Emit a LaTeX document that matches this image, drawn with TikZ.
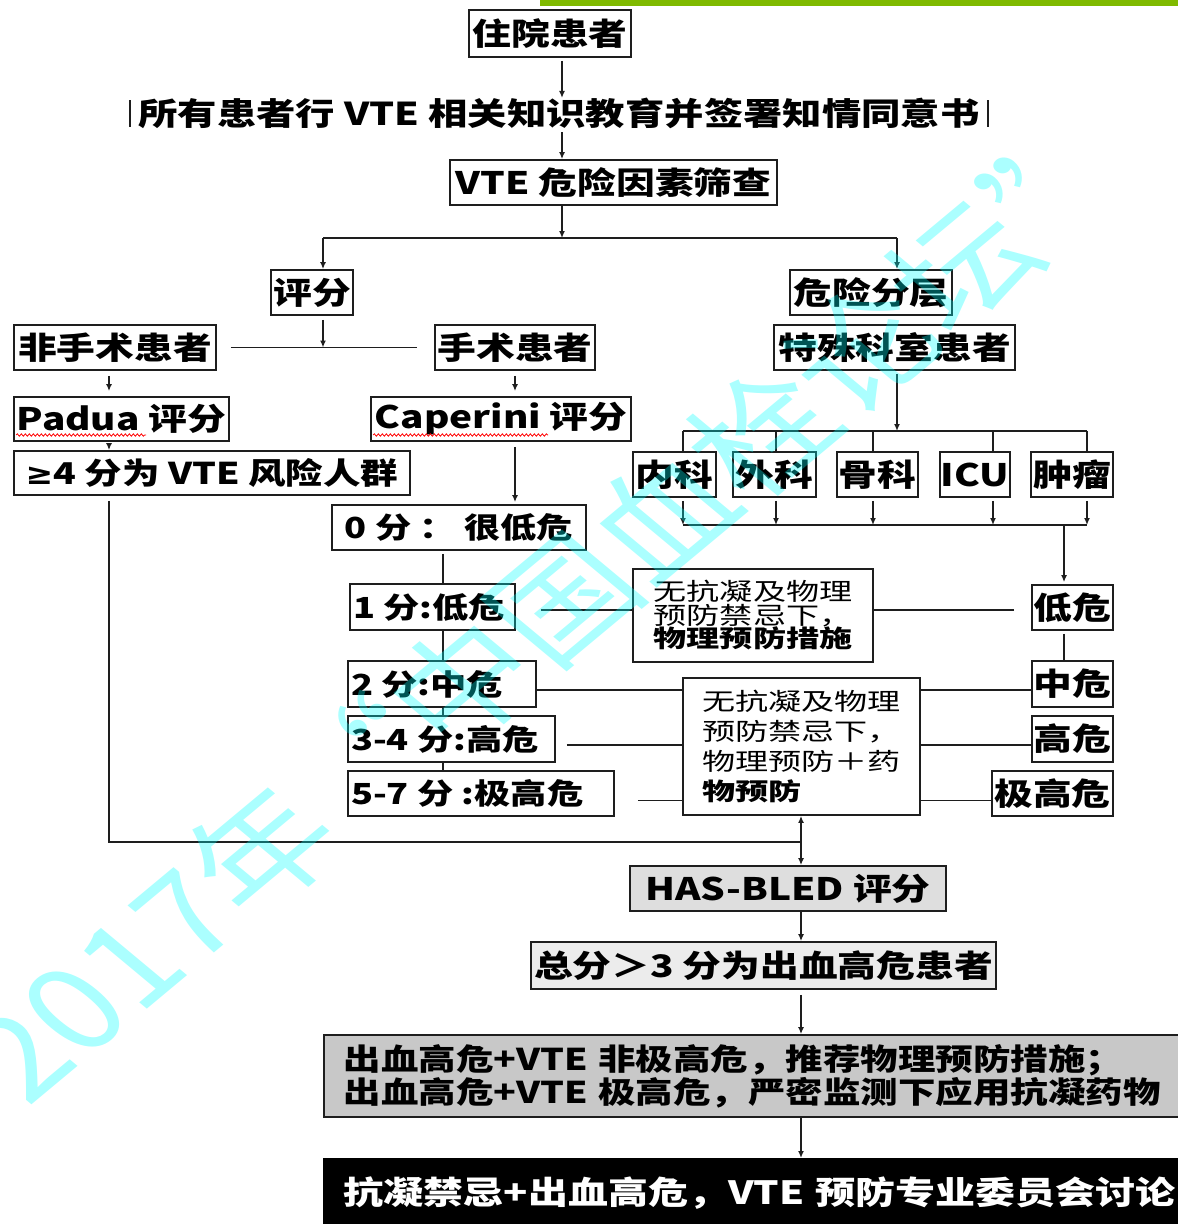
\documentclass[tikz,border=0pt]{standalone}
\usepackage{fontspec}
\newfontfamily\cjk[FakeStretch=1.25]{Noto Sans CJK SC}
\newfontfamily\cjkw[FakeStretch=1.38]{Noto Sans CJK SC}
\newfontfamily\dvs[FakeStretch=1.1]{DejaVu Sans}
\newfontfamily\wmfont{Noto Sans CJK SC}
\usetikzlibrary{arrows.meta,decorations.pathmorphing,calc}
\definecolor{ln}{HTML}{1E1E1E}
\definecolor{barg}{RGB}{127,186,0}
\definecolor{hasg}{RGB}{222,222,222}
\definecolor{totg}{RGB}{236,236,236}
\definecolor{recg}{RGB}{200,200,200}
\definecolor{wmc}{RGB}{0,255,255}
\tikzset{
  box/.style={draw=ln, line width=1.8pt, fill=white, inner sep=0pt, text=black,
    font=\cjk\bfseries\fontsize{31}{36}\selectfont},
  rowbox/.style={box, inner xsep=3pt, font=\cjk\bfseries\fontsize{29}{34}\selectfont},
  note/.style={draw=ln, line width=1.8pt, fill=white, inner sep=0pt, text=black, align=left},
  conn/.style={draw=ln, line width=1.8pt},
  arr/.style={conn, -{Latex[length=7pt,width=6pt]}},
  squig/.style={draw=red, line width=0.8pt, decorate,
    decoration={snake, amplitude=1.2pt, segment length=4pt}},
  wmtext/.style={inner sep=0pt, text=wmc, text opacity=0.33, transform shape,
    font=\wmfont\fontsize{118}{118}\selectfont},
}
\begin{document}
\begin{tikzpicture}[x=1pt, y=-1pt]
\useasboundingbox (0,0) rectangle (1178,1224);
\fill[white] (0,0) rectangle (1178,1224);
\fill[barg] (540,0) rectangle (1178,6);

% helper coordinates
\coordinate (trunk) at (562,0);
\coordinate (sL) at (323,238);
\coordinate (sR) at (897,238);
\coordinate (colL) at (109,0);
\coordinate (colC) at (515,0);
\coordinate (colM) at (443,0);
\coordinate (busT) at (897,431);
\coordinate (busB) at (897,525);
\coordinate (jn) at (801,842);
\coordinate (ax) at (801,0);

% nodes
\node[box, minimum width=162, minimum height=47] (in) at (550,33.5) {住院患者};
\node[inner sep=0pt, minimum width=858, minimum height=27, text=black,
  font=\cjk\bfseries\fontsize{31.5}{34}\selectfont] (edu) at (559,113.5)
  {所有患者行 VTE 相关知识教育并签署知情同意书};
\node[box, minimum width=327, minimum height=45] (screen) at (613.5,182.5) {VTE 危险因素筛查};
\node[box, minimum width=82, minimum height=45] (score) at (312,292.5) {评分};
\node[box, minimum width=162, minimum height=45] (strat) at (871,292.5) {危险分层};
\node[box, minimum width=202, minimum height=45] (nonsurg) at (115,347.5) {非手术患者};
\node[box, minimum width=160, minimum height=45] (surg) at (515,347.5) {手术患者};
\node[box, minimum width=241, minimum height=45] (special) at (894.5,347.5) {特殊科室患者};
\node[box, minimum width=215, minimum height=44] (padua) at (121.5,419) {Padua 评分};
\node[box, minimum width=260, minimum height=44] (caprini) at (501,419) {Caperini 评分};
\node[box, minimum width=396, minimum height=44,
  font=\cjk\bfseries\fontsize{30}{34}\selectfont] (ge4) at (212,473) {{\dvs\bfseries ≥}4 分为 VTE 风险人群};
\node[box, minimum width=83, minimum height=45] (d1) at (674.5,474.5) {内科};
\node[box, minimum width=83, minimum height=45] (d2) at (774.5,474.5) {外科};
\node[box, minimum width=81, minimum height=45] (d3) at (877.5,474.5) {骨科};
\node[box, minimum width=70, minimum height=45] (d4) at (975,474.5) {ICU};
\node[box, minimum width=82, minimum height=45] (d5) at (1072,474.5) {肿瘤};
\node[rowbox, minimum width=254, minimum height=45] (c0) at (459,527.5) {0 分 ： 很低危};
\node[rowbox, minimum height=46] (c1) at (432.5,607) {\makebox[159pt][l]{1 分:低危}};
\node[rowbox, minimum height=46] (c2) at (442,684) {\makebox[182pt][l]{2 分:中危}};
\node[rowbox, minimum height=46] (c3) at (451.5,739) {\makebox[201pt][l]{3-4 分:高危}};
\node[rowbox, minimum height=45] (c4) at (481,793.5) {\makebox[260pt][l]{5-7 分 :极高危}};
\node[note, minimum width=240, minimum height=93,
  font=\cjkw\fontsize{24}{23.5}\selectfont] (boxA) at (753,615.5)
  {无抗凝及物理\\预防禁忌下，\\{\bfseries 物理预防措施}};
\node[note, minimum width=237, minimum height=137,
  font=\cjkw\fontsize{24}{30}\selectfont] (boxB) at (801.5,746.5)
  {无抗凝及物理\\预防禁忌下，\\物理预防＋药\\{\bfseries 物预防}};
\node[box, minimum width=81, minimum height=45] (r1) at (1072.5,607.5) {低危};
\node[box, minimum width=81, minimum height=46] (r2) at (1072.5,684) {中危};
\node[box, minimum width=81, minimum height=46] (r3) at (1072.5,739) {高危};
\node[box, minimum width=121, minimum height=45] (r4) at (1052.5,793.5) {极高危};
\node[box, fill=hasg, minimum width=316, minimum height=45] (has) at (788,888.5) {HAS-BLED 评分};
\node[box, fill=totg, minimum width=465, minimum height=47] (total) at (763.5,965.5) {总分＞3 分为出血高危患者};
\node[box, fill=recg, anchor=west, align=left, text width=850, inner xsep=20pt,
  minimum height=82, font=\cjk\bfseries\fontsize{30}{33}\selectfont] (rec) at (323,1076)
  {出血高危+VTE 非极高危，推荐物理预防措施；\\出血高危+VTE 极高危，严密监测下应用抗凝药物};
\node[box, fill=black, draw=black, text=white, anchor=north west, align=left, text width=900,
  inner xsep=20pt, minimum height=68, font=\cjk\bfseries\fontsize{32}{34}\selectfont] (fin) at (323,1158)
  {抗凝禁忌+出血高危，VTE 预防专业委员会讨论};

% side bars of the education line
\draw[conn] ([yshift=13.5]edu.west) -- ([yshift=-13.5]edu.west);
\draw[conn] ([yshift=13.5]edu.east) -- ([yshift=-13.5]edu.east);

% spell-check squiggles
\draw[squig] ([xshift=3,yshift=-16]padua.west) -- ++(130,0);
\draw[squig] ([xshift=3,yshift=-16]caprini.west) -- ++(175,0);

% connectors
\draw[arr, shorten <=3pt] (in.south -| trunk) -- (edu.north -| trunk);
\draw[arr, shorten <=3pt] (edu.south -| trunk) -- (screen.north -| trunk);
\draw[arr] (screen.south -| trunk) -- (trunk |- sL);
\draw[conn] (sL) -- (sR);
\draw[arr] (sL) -- (sL |- score.north);
\draw[arr] (sR) -- (sR |- strat.north);
\draw[arr, shorten <=4pt] (score.south -| sL) -- (sL |- nonsurg.east);
\draw[conn] ([xshift=14]nonsurg.east) -- ([xshift=-17]surg.west);
\draw[arr, shorten <=5pt, shorten >=5pt] (nonsurg.south -| colL) -- (padua.north -| colL);
\draw[arr, shorten <=5pt, shorten >=5pt] (surg.south -| colC) -- (caprini.north -| colC);
\draw[arr, shorten <=3pt] (padua.south -| colL) -- (ge4.north -| colL);
\draw[arr, shorten <=5pt, shorten >=2pt] (caprini.south -| colC) -- (c0.north -| colC);
\draw[conn, shorten <=3pt] (c0.south -| colM) -- (c1.north -| colM);
\draw[conn] (c1.south -| colM) -- (c2.north -| colM);
\draw[conn] (c2.south -| colM) -- (c3.north -| colM);
\draw[conn] (c3.south -| colM) -- (c4.north -| colM);

% department buses
\draw[arr, shorten <=3pt] (special.south -| busT) -- (busT);
\draw[conn] ([xshift=8.5]d1.north |- busT) -- ([xshift=15]d5.north |- busT);
\draw[conn] ([xshift=8.5]d1.south |- busB) -- ([xshift=15]d5.south |- busB);
\foreach \n/\s in {d1/8.5, d2/1.5, d3/-4.5, d4/18, d5/15} {
  \draw[conn] ([xshift=\s]\n.north) -- ([xshift=\s]\n.north |- busT);
  \draw[arr, shorten <=3pt] ([xshift=\s]\n.south) -- ([xshift=\s]\n.south |- busB);
}
\draw[arr, shorten >=2pt] ([xshift=-8.5]r1.north |- busB) -- ([xshift=-8.5]r1.north);
\draw[conn, shorten <=3pt] ([xshift=-8.5]r1.south) -- ([xshift=-8.5]r2.north);

% risk rows to measures
\draw[conn] ([xshift=25,yshift=-3]c1.east) -- ([yshift=-3]c1.east -| boxA.west);
\draw[conn] ([xshift=-17,yshift=-2.5]r1.west) -- ([yshift=-2.5]r1.west -| boxA.east);
\draw[conn] ([yshift=-6]c2.east) -- ([yshift=-6]c2.east -| boxB.west);
\draw[conn] ([xshift=11,yshift=-6]c3.east) -- ([yshift=-6]c3.east -| boxB.west);
\draw[conn] ([xshift=23,yshift=-7]c4.east) -- ([yshift=-7]c4.east -| boxB.west);
\draw[conn] ([yshift=-6]r2.west) -- ([yshift=-6]r2.west -| boxB.east);
\draw[conn] ([yshift=-6]r3.west) -- ([yshift=-6]r3.west -| boxB.east);
\draw[conn] ([yshift=-7]r4.west) -- ([yshift=-7]r4.west -| boxB.east);

% lower trunk
\draw[conn] ($(ge4.south -| colL)+(0,5)$) |- (jn);
\draw[arr] (jn) -- (boxB.south -| jn);
\draw[arr] (jn) -- (has.north -| jn);
\draw[arr] (has.south -| ax) -- (total.north -| ax);
\draw[arr, shorten <=5pt] (total.south -| ax) -- (rec.north -| ax);
\draw[arr] (rec.south -| ax) -- (fin.north -| ax);

% watermark
\begin{scope}[shift={(350,840)}, xscale=1.2, rotate=45]
  \node[wmtext, anchor=base east] (wm1) at (0,0) {2017年};
  \node[wmtext, anchor=base west] (wm2) at (0,0) {“中国血栓论坛”};
\end{scope}
\end{tikzpicture}
\end{document}
